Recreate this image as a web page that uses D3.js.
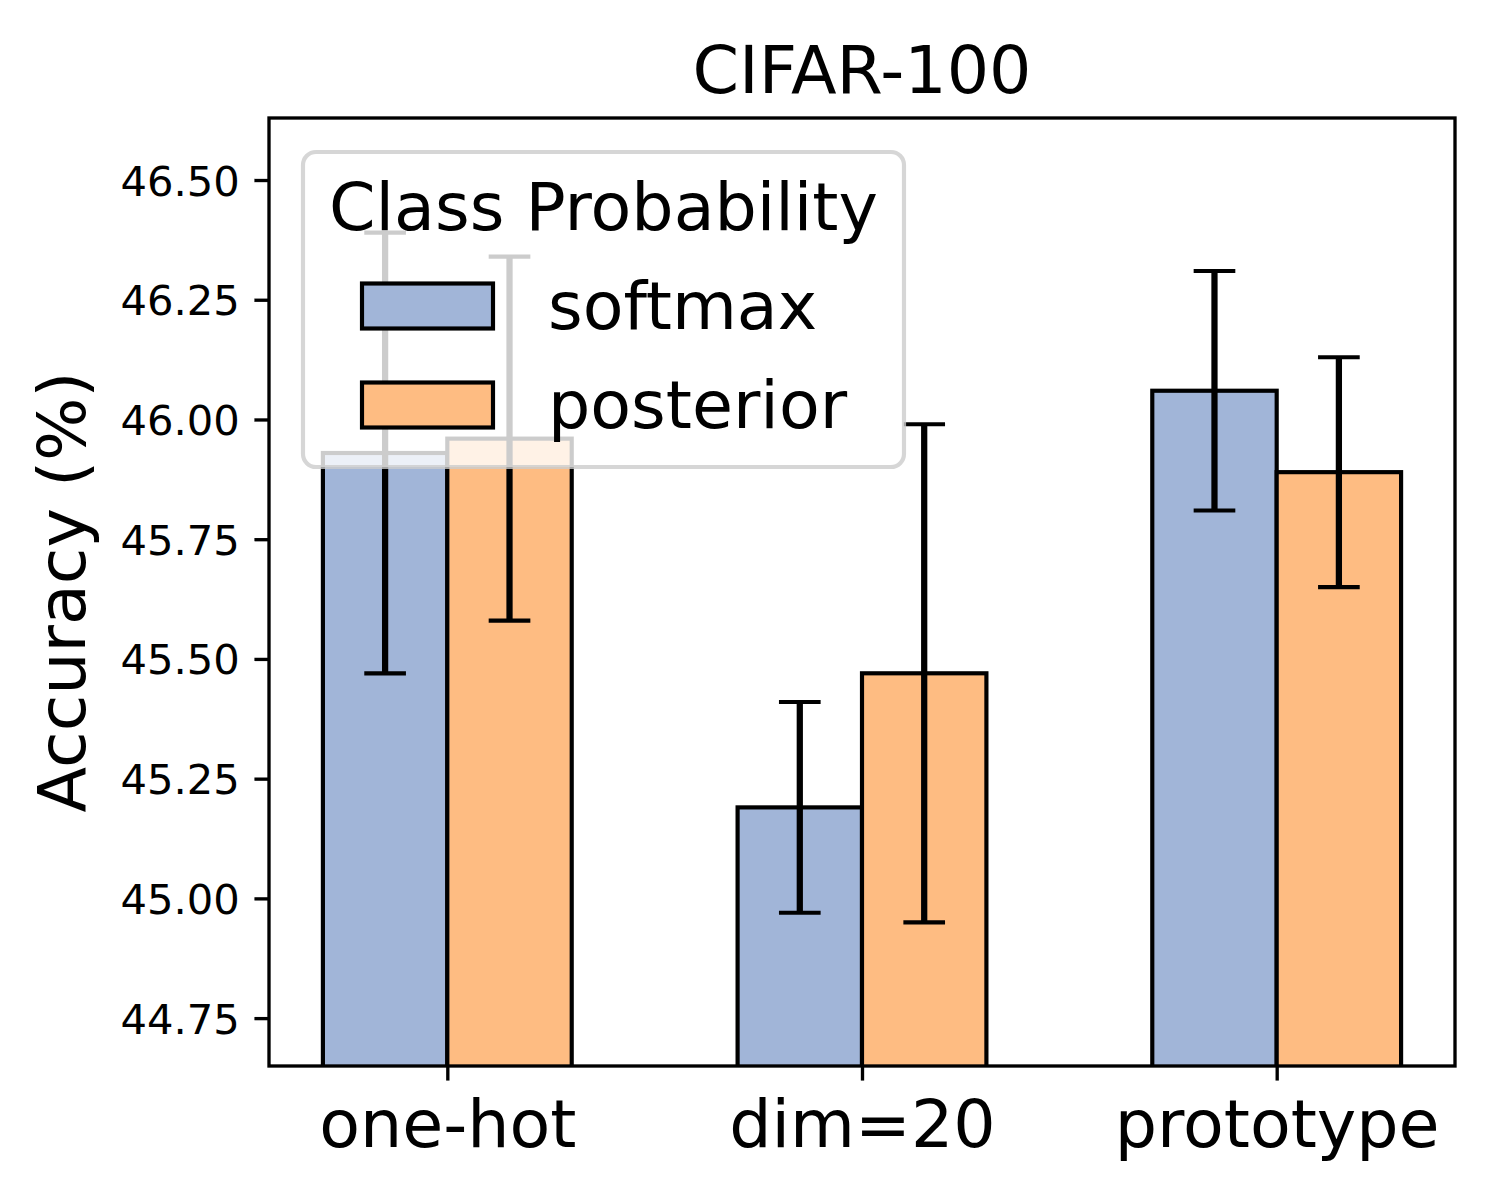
<!DOCTYPE html>
<html>
<head>
<meta charset="utf-8">
<script src="https://cdn.jsdelivr.net/npm/d3@7"></script>
<style>
  html, body { margin: 0; padding: 0; background: #fff; }
  svg { display: block; font-family: "DejaVu Sans", sans-serif; }
</style>
</head>
<body>
<svg id="chart" width="1500" height="1200"></svg>
<script>
// ---- data ----
const categories = ["one-hot", "dim=20", "prototype"];
const seriesNames = ["softmax", "posterior"];
const softmaxValues = [45.93, 45.19, 46.06];
const softmaxErrors = [0.46, 0.22, 0.25];
const posteriorValues = [45.96, 45.47, 45.89];
const posteriorErrors = [0.38, 0.52, 0.24];
const yTicks = [44.75, 45.00, 45.25, 45.50, 45.75, 46.00, 46.25, 46.50];
const titleText = "CIFAR-100";
const yLabelText = "Accuracy (%)";
const legendTitle = "Class Probability";

const colors = { softmax: "#a1b5d8", posterior: "#febc82" };

const svg = d3.select("#chart");
const W = 1500, H = 1200;
const plot = { left: 269, right: 1455, top: 118, bottom: 1066 };
const pt = 300 / 72;

// x: linear in category-index units like matplotlib
const x = d3.scaleLinear().domain([-0.43, 2.43]).range([plot.left, plot.right]);
const y = d3.scaleLinear().domain([44.650, 46.6295]).range([plot.bottom, plot.top]);
const barWidth = 0.3;

const series = [
  { name: "softmax", values: softmaxValues, errors: softmaxErrors, offset: -0.15 },
  { name: "posterior", values: posteriorValues, errors: posteriorErrors, offset: 0.15 }
];

svg.append("rect").attr("width", W).attr("height", H).attr("fill", "#fff");

svg.append("defs").append("clipPath").attr("id", "plotclip")
  .append("rect").attr("x", plot.left).attr("y", plot.top)
  .attr("width", plot.right - plot.left).attr("height", plot.bottom - plot.top);

const g = svg.append("g").attr("clip-path", "url(#plotclip)");

// bars
series.forEach(s => {
  g.selectAll(null).data(s.values).enter().append("rect")
    .attr("x", (d, i) => x(i + s.offset - barWidth / 2))
    .attr("width", x(barWidth) - x(0))
    .attr("y", d => y(d))
    .attr("height", d => y.range()[0] + 20 - y(d))
    .attr("fill", colors[s.name])
    .attr("stroke", "#000")
    .attr("stroke-width", 1 * pt);
});

// error bars
const capHalf = 5 * pt;
series.forEach(s => {
  s.values.forEach((v, i) => {
    const cx = x(i + s.offset);
    const e = s.errors[i];
    g.append("line").attr("x1", cx).attr("x2", cx)
      .attr("y1", y(v - e)).attr("y2", y(v + e))
      .attr("stroke", "#000").attr("stroke-width", 1.5 * pt);
    [v - e, v + e].forEach(yy => {
      g.append("line").attr("x1", cx - capHalf).attr("x2", cx + capHalf)
        .attr("y1", y(yy)).attr("y2", y(yy))
        .attr("stroke", "#000").attr("stroke-width", 1 * pt);
    });
  });
});

// axes
const tickLen = 3.5 * pt, tickPad = 3.5 * pt;
const yAxis = d3.axisLeft(y).tickValues(yTicks).tickFormat(d3.format(".2f"))
  .tickSize(tickLen).tickPadding(tickPad);
const yg = svg.append("g").attr("transform", `translate(${plot.left},0)`).call(yAxis);
yg.select(".domain").remove();
yg.selectAll(".tick line").attr("stroke", "#000").attr("stroke-width", 0.8 * pt);
yg.selectAll(".tick text").attr("font-size", 10 * pt).attr("fill", "#000")
  .attr("font-family", "DejaVu Sans").attr("dy", "0.36em");

const xAxis = d3.axisBottom(x).tickValues(categories.map((c, i) => i))
  .tickFormat(i => categories[i]).tickSize(tickLen).tickPadding(tickPad);
const xg = svg.append("g").attr("transform", `translate(0,${plot.bottom})`).call(xAxis);
xg.select(".domain").remove();
xg.selectAll(".tick line").attr("stroke", "#000").attr("stroke-width", 0.8 * pt);
xg.selectAll(".tick text").attr("font-size", 16 * pt).attr("fill", "#000")
  .attr("font-family", "DejaVu Sans").attr("dy", null).attr("y", 81);

// frame
svg.append("rect").attr("x", plot.left).attr("y", plot.top)
  .attr("width", plot.right - plot.left).attr("height", plot.bottom - plot.top)
  .attr("fill", "none").attr("stroke", "#000").attr("stroke-width", 0.8 * pt);

// title
svg.append("text").attr("x", (plot.left + plot.right) / 2).attr("y", 93)
  .attr("text-anchor", "middle").attr("font-size", 16 * pt).attr("fill", "#000")
  .text(titleText);

// y label
svg.append("text")
  .attr("transform", `translate(85,${(plot.top + plot.bottom) / 2}) rotate(-90)`)
  .attr("text-anchor", "middle").attr("font-size", 16 * pt).attr("fill", "#000")
  .text(yLabelText);

// legend
const lg = svg.append("g");
lg.append("rect").attr("x", 303).attr("y", 152).attr("width", 601).attr("height", 315)
  .attr("rx", 13).attr("ry", 13)
  .attr("fill", "#fff").attr("fill-opacity", 0.8)
  .attr("stroke", "#cccccc").attr("stroke-opacity", 0.8).attr("stroke-width", 1 * pt);
lg.append("text").attr("x", 603.5).attr("y", 230).attr("text-anchor", "middle")
  .attr("font-size", 16 * pt).attr("fill", "#000").text(legendTitle);
const legendRows = [306, 405];
seriesNames.forEach((name, i) => {
  lg.append("rect").attr("x", 362).attr("y", legendRows[i] - 22.5)
    .attr("width", 131).attr("height", 45)
    .attr("fill", colors[name]).attr("stroke", "#000").attr("stroke-width", 1 * pt);
  lg.append("text").attr("x", 548).attr("y", legendRows[i] + 22.5)
    .attr("font-size", 16 * pt).attr("fill", "#000").text(name);
});
</script>
</body>
</html>
